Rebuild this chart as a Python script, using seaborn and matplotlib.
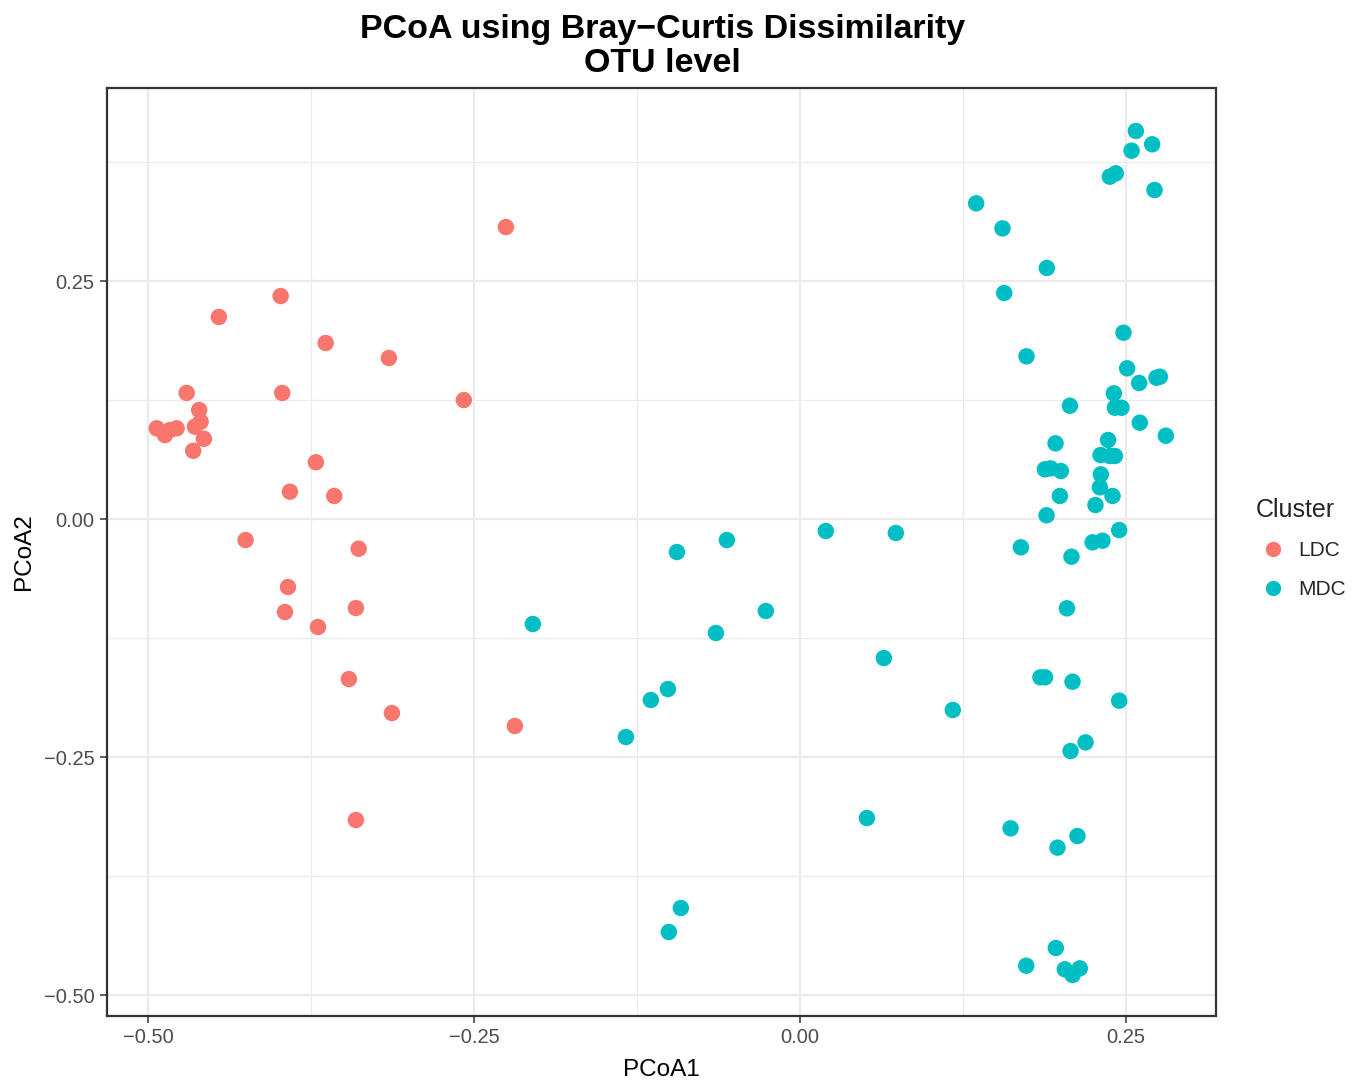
import numpy as np
import pandas as pd
import matplotlib
matplotlib.use("Agg")
import matplotlib.pyplot as plt
import seaborn as sns
from matplotlib.ticker import FixedLocator

ldc_x = [-0.2255, -0.3982, -0.4456, -0.3637, -0.3152, -0.4703, -0.3970, -0.2577,
         -0.4607, -0.4596, -0.4640, -0.4933, -0.4870, -0.4831, -0.4780, -0.4571,
         -0.4653, -0.3712, -0.3911, -0.3571, -0.4251, -0.3384, -0.3926, -0.3949,
         -0.3405, -0.3696, -0.3459, -0.3129, -0.2186, -0.3405]
ldc_y = [0.3067, 0.2342, 0.2122, 0.1849, 0.1691, 0.1324, 0.1324, 0.1250,
         0.1145, 0.1022, 0.0970, 0.0953, 0.0882, 0.0935, 0.0953, 0.0843,
         0.0717, 0.0596, 0.0287, 0.0242, -0.0221, -0.0312, -0.0714, -0.0977,
         -0.0935, -0.1134, -0.1681, -0.2038, -0.2174, -0.3162]

mdc_x = [-0.2048, -0.0943, -0.0560, -0.0644, -0.0261, 0.0199, 0.0736, 0.0644,
         -0.1012, -0.1143, -0.1334, 0.1173, 0.0514, -0.0913, -0.1005,
         0.2577, 0.2702, 0.2544, 0.2377, 0.2423, 0.2720, 0.1352, 0.1554,
         0.1894, 0.1567, 0.2482, 0.1738, 0.2510, 0.2602, 0.2735, 0.2761,
         0.2408, 0.2071, 0.2416, 0.2467,
         0.2607, 0.2807, 0.1961, 0.2364, 0.2306, 0.2377, 0.2416, 0.1879,
         0.1922, 0.2002, 0.2308, 0.2301, 0.1994, 0.2398, 0.2267, 0.1892,
         0.2449, 0.1695, 0.2245, 0.2321, 0.2083,
         0.2048, 0.1845, 0.1880, 0.2091, 0.2449, 0.2191, 0.2076, 0.1616,
         0.2129, 0.1976, 0.1963, 0.1736, 0.2032, 0.2091, 0.2147]
mdc_y = [-0.1103, -0.0347, -0.0221, -0.1197, -0.0966, -0.0126, -0.0147, -0.1460,
         -0.1786, -0.1901, -0.2290, -0.2006, -0.3141, -0.4086, -0.4338,
         0.4076, 0.3936, 0.3869, 0.3596, 0.3631, 0.3456, 0.3316, 0.3053,
         0.2637, 0.2374, 0.1957, 0.1709, 0.1583, 0.1429, 0.1484, 0.1495,
         0.1320, 0.1190, 0.1169, 0.1169,
         0.1012, 0.0875, 0.0795, 0.0830, 0.0672, 0.0662, 0.0662, 0.0522,
         0.0532, 0.0504, 0.0469, 0.0333, 0.0242, 0.0242, 0.0147, 0.0039,
         -0.0116, -0.0297, -0.0245, -0.0228, -0.0396,
         -0.0938, -0.1663, -0.1663, -0.1709, -0.1908, -0.2346, -0.2437, -0.3249,
         -0.3330, -0.3452, -0.4506, -0.4692, -0.4730, -0.4790, -0.4720]

clusters = ["LDC", "MDC"]
palette = {"LDC": "#F8766D", "MDC": "#00BFC4"}
x_ticks = [-0.50, -0.25, 0.00, 0.25]
y_ticks = [-0.50, -0.25, 0.00, 0.25]
tick_labels = ["\u22120.50", "\u22120.25", "0.00", "0.25"]

df = pd.DataFrame({
    "PCoA1": ldc_x + mdc_x,
    "PCoA2": ldc_y + mdc_y,
    "Cluster": ["LDC"] * len(ldc_x) + ["MDC"] * len(mdc_x),
})

sns.set_style("white")
plt.rcParams["font.family"] = ["Liberation Sans", "DejaVu Sans"]

fig = plt.figure(figsize=(13.63, 10.83), dpi=100)
ax = fig.add_axes([0.0785, 0.0619, 0.8135, 0.8568])

sns.scatterplot(data=df, x="PCoA1", y="PCoA2", hue="Cluster", hue_order=clusters,
                palette=palette, s=140, linewidth=0, alpha=1, ax=ax, zorder=3)

ax.set_xlim(-0.5314, 0.319)
ax.set_ylim(-0.522, 0.4527)
ax.xaxis.set_major_locator(FixedLocator(x_ticks))
ax.yaxis.set_major_locator(FixedLocator(y_ticks))
ax.xaxis.set_minor_locator(FixedLocator([-0.375, -0.125, 0.125]))
ax.yaxis.set_minor_locator(FixedLocator([-0.375, -0.125, 0.125, 0.375]))
ax.set_xticklabels(tick_labels)
ax.set_yticklabels(tick_labels)
ax.grid(True, which="major", color="#EBEBEB", linewidth=1.6, zorder=0)
ax.grid(True, which="minor", color="#EBEBEB", linewidth=0.9, zorder=0)
ax.set_axisbelow(True)
ax.tick_params(axis="both", which="major", length=5, width=1.1, color="#333333",
               labelsize=14.5, labelcolor="#4D4D4D", pad=4, direction="out",
               bottom=True, left=True)
ax.tick_params(axis="both", which="minor", length=0)
for sp in ax.spines.values():
    sp.set_color("#333333")
    sp.set_linewidth(1.6)

ax.set_xlabel("PCoA1", fontsize=17.5, color="black", labelpad=8)
ax.set_ylabel("PCoA2", fontsize=17.5, color="black", labelpad=6)

fig.suptitle("PCoA using Bray\u2212Curtis Dissimilarity\nOTU level", fontsize=24.5,
             fontweight="bold", color="black", x=0.486, y=0.987, va="top",
             linespacing=1.12)

ax.legend_.remove()
handles = [plt.Line2D([], [], marker="o", linestyle="", markersize=11,
                      markerfacecolor=palette[c], markeredgewidth=0) for c in clusters]
leg = fig.legend(handles, clusters, title="Cluster", loc="upper left",
                 bbox_to_anchor=(0.9155, 0.548), frameon=False, fontsize=15,
                 title_fontsize=18, handletextpad=0.4, labelspacing=0.95,
                 handlelength=1.6, borderaxespad=0)
leg._legend_box.align = "left"
leg._legend_box.sep = 14

fig.savefig("out.png", dpi=100, facecolor="white")
